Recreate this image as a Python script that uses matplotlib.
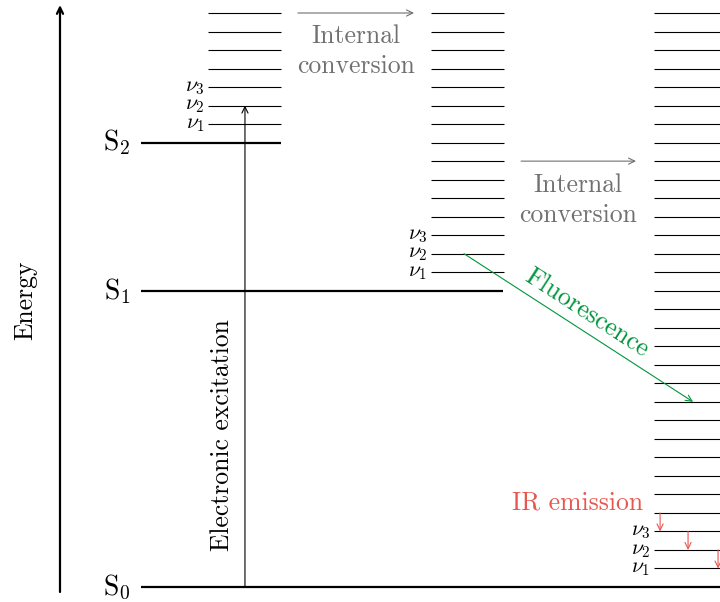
import matplotlib
matplotlib.use("Agg")
import matplotlib.pyplot as plt

plt.rcParams["font.family"] = "cmr10"
plt.rcParams["mathtext.fontset"] = "cm"

# diagram units: one vibrational spacing = 1 unit
PX = 18.516

# electronic states
s_names = [r"$\mathrm{S}_0$", r"$\mathrm{S}_1$", r"$\mathrm{S}_2$"]
s_levels = [0, 16, 24]
s_ends = [39.5, 27.17, 15.18]

# vibrational ladders: S2, S1, S0 from left to right
col_start = [11.25, 23.28, 35.32]
col_width = 3.93
vib_first = [25, 17, 1]
vib_last = [31, 31, 31]
nu_names = [r"$\nu_1$", r"$\nu_2$", r"$\nu_3$"]

gray = "#707070"
green = "#00963c"
red = "#e8574f"
FS = 18.5

fig = plt.figure(figsize=(7.2, 6.02), dpi=100)
ax = fig.add_axes([0, 0, 1, 1])
ax.set_xlim(0, 720 / PX)
ax.set_ylim(-15 / PX, 587 / PX)
ax.axis("off")


def arrow(x0, y0, x1, y1, color="black", lw=0.8):
    ax.annotate("", xy=(x1, y1), xytext=(x0, y0),
                arrowprops=dict(arrowstyle="->,head_length=0.45,head_width=0.22",
                                color=color, lw=lw, shrinkA=0, shrinkB=0))


# energy axis
arrow(3.24, -0.27, 3.24, 31.43, lw=1.6)
ax.text(1.35, 15.5, "Energy", rotation=90, ha="center", va="center", fontsize=FS)

# electronic levels
for name, lev, end in zip(s_names, s_levels, s_ends):
    ax.plot([7.62, end], [lev, lev], color="black", lw=1.6, solid_capstyle="butt")
    ax.text(7.05, lev, name, ha="right", va="center", fontsize=20)

# vibrational levels
for x0, first, last in zip(col_start, vib_first, vib_last):
    for v in range(first, last + 1):
        ax.plot([x0, x0 + col_width], [v, v], color="black", lw=0.8,
                solid_capstyle="butt")
    for k, nm in enumerate(nu_names):
        ax.text(x0 - 0.2, first + k, nm, ha="right", va="center", fontsize=15.5)

# electronic excitation
arrow(13.23, 0, 13.23, 26)
ax.text(12.0, 8.2, "Electronic excitation", rotation=90, ha="center",
        va="center", fontsize=FS)

# internal conversion
arrow(16.09, 31, 22.36, 31, color=gray)
ax.text(19.23, 28.95, "Internal\nconversion", ha="center", va="center",
        fontsize=FS, color=gray, linespacing=1.3)
arrow(28.14, 23, 34.35, 23, color=gray)
ax.text(31.22, 20.9, "Internal\nconversion", ha="center", va="center",
        fontsize=FS, color=gray, linespacing=1.3)

# fluorescence
arrow(25.06, 18, 37.43, 10, color=green)
ax.text(31.7, 14.8, "Fluorescence", rotation=-32.9, ha="center", va="center",
        fontsize=FS, color=green, rotation_mode="anchor")

# IR emission cascade
ir_x = [35.65, 37.16, 38.78]
ir_from = [4, 3, 2]
for x, lev in zip(ir_x, ir_from):
    arrow(x, lev, x, lev - 1, color=red)
ax.text(34.73, 4.54, "IR emission", ha="right", va="center", fontsize=FS,
        color=red)

fig.savefig("out.png", dpi=100)
